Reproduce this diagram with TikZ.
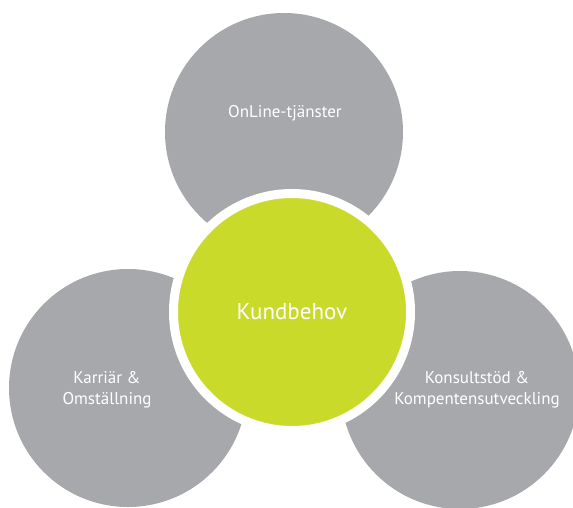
\documentclass[tikz,border=0pt]{standalone}
\usepackage{fontspec}
\setmainfont{PT Sans}
\definecolor{petalgray}{HTML}{A7A8AC}
\definecolor{hubgreen}{HTML}{C9DA2A}

\begin{document}
\begin{tikzpicture}[x=1pt,y=1pt]
\tikzstyle{every node}+=[inner sep=0pt]
\tikzstyle{petal}=[circle, fill=petalgray, minimum size=238pt]
\tikzstyle{hub}=[circle, fill=hubgreen, draw=white, line width=9pt, minimum size=237pt]
\tikzstyle{petaltext}=[text=white, align=center, font=\fontsize{17}{21}\selectfont]
\useasboundingbox (0,0) rectangle (573,-507);
\clip (0,0) rectangle (573,-507);
\node [petal] (online) at (284,-132) {};
\node [petal] (karriar) at (128,-388) {};
\node [petal] (konsult) at (460,-390) {};
\node [hub, text=white, font=\fontsize{23}{27}\selectfont] (kund) at (292,-312) {Kundbehov};
\node [petaltext] (onlinetext) at (285,-113) {OnLine-tjänster};
\node [petaltext] (karriartext) at (107,-390) {Karriär \&\\Omställning};
\node [petaltext] (konsulttext) at (477,-390) {Konsultstöd \&\\Kompentensutveckling};
\end{tikzpicture}
\end{document}
